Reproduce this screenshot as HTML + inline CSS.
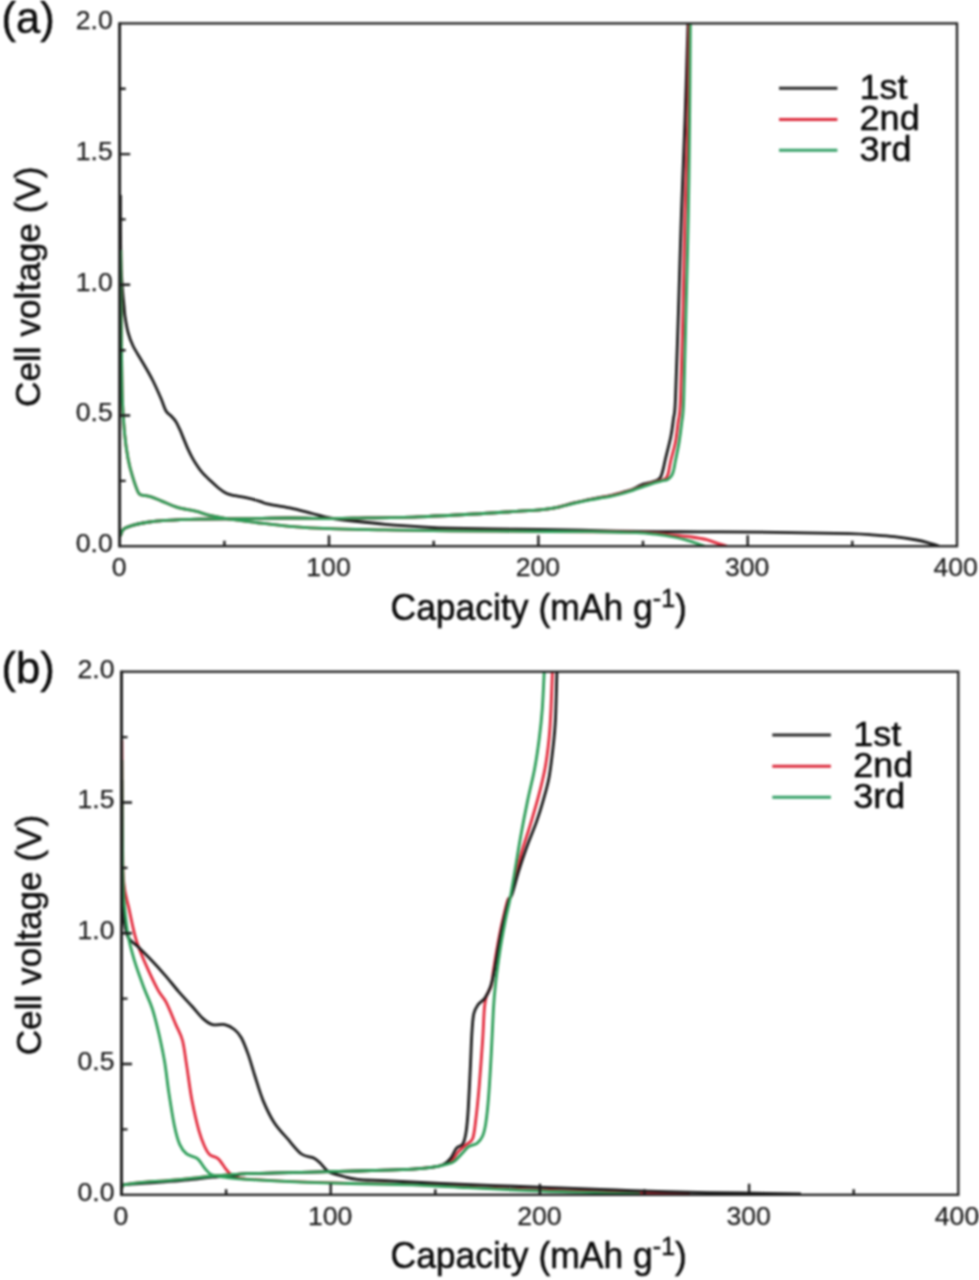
<!DOCTYPE html>
<html lang="en">
<head>
<meta charset="utf-8">
<title>Charge-discharge curves</title>
<style>
html,body{margin:0;padding:0;background:#fff;}
body{width:979px;height:1280px;overflow:hidden;}
svg{display:block;font-family:"Liberation Sans",Arial,Helvetica,sans-serif;filter:blur(0.8px);}
</style>
</head>
<body>
<svg width="979" height="1280" viewBox="0 0 979 1280">
<rect width="979" height="1280" fill="#ffffff"/>
<g>
<clipPath id="clipa"><rect x="118.2" y="22.4" width="840.3" height="525.0"/></clipPath>
<g clip-path="url(#clipa)">
<path d="M120.5,195.0C120.5,205.4 120.5,242.1 120.8,257.2C121.1,272.3 121.7,277.5 122.2,285.6C122.7,293.7 123.5,300.9 124.0,306.0C124.5,311.1 124.3,311.9 125.0,316.4C125.7,320.9 126.8,327.9 128.2,332.8C129.5,337.7 131.0,341.7 133.1,346.0C135.2,350.3 138.6,355.5 140.5,358.8C142.4,362.1 142.5,362.1 144.6,365.7C146.7,369.3 150.1,375.0 152.8,380.5C155.5,386.0 158.8,393.4 161.0,398.5C163.2,403.6 164.3,408.1 166.0,411.0C167.7,413.9 169.3,414.1 170.9,415.8C172.5,417.6 174.3,419.2 175.8,421.5C177.3,423.8 178.5,426.7 179.9,429.7C181.3,432.7 182.6,436.3 184.0,439.6C185.4,442.9 186.7,446.4 188.1,449.4C189.5,452.4 190.7,454.9 192.2,457.6C193.7,460.3 195.5,463.3 197.2,465.8C198.8,468.3 199.9,469.9 202.1,472.4C204.3,474.9 207.6,478.0 210.3,480.6C213.0,483.2 215.8,485.8 218.5,488.0C221.2,490.2 224.0,492.3 226.7,493.6C229.4,494.9 231.9,495.1 234.9,495.7C237.9,496.3 240.6,496.5 244.8,497.4C249.0,498.3 256.2,500.2 260.0,501.3C263.8,502.4 262.3,502.7 267.3,503.8C272.3,504.9 282.3,506.3 289.8,507.9C297.3,509.5 305.5,511.8 312.2,513.5C318.9,515.2 323.2,516.8 330.0,518.0C336.8,519.2 343.5,520.0 352.7,521.0C361.9,522.0 374.5,523.4 385.4,524.3C396.3,525.2 407.1,526.0 418.0,526.6C428.9,527.2 434.4,527.8 450.7,528.2C467.0,528.6 494.2,528.9 516.0,529.2C537.8,529.5 560.7,529.8 581.4,530.2C602.1,530.6 620.2,531.2 640.0,531.5C659.8,531.8 680.0,531.7 700.0,531.8C720.0,531.9 742.5,531.9 760.0,532.1C777.5,532.3 789.8,532.5 804.7,532.8C819.6,533.1 838.3,533.4 849.5,533.7C860.7,534.0 864.4,534.3 871.9,534.8C879.4,535.3 886.8,535.7 894.2,536.6C901.7,537.5 910.6,538.9 916.6,540.0C922.6,541.1 926.3,542.3 930.0,543.3C933.7,544.3 937.5,545.5 939.0,546.0" fill="none" stroke="#181818" stroke-width="2.8" stroke-linejoin="round" stroke-linecap="butt"/>
<path d="M120.4,536.0C120.9,534.9 121.5,531.0 123.5,529.2C125.5,527.4 128.8,526.5 132.5,525.4C136.2,524.3 140.4,523.3 146.0,522.5C151.6,521.7 157.2,521.0 166.2,520.4C175.2,519.8 186.8,519.4 199.9,519.1C213.0,518.8 229.8,518.9 244.8,518.7C259.8,518.5 275.6,518.0 289.8,518.0C304.0,518.0 319.5,518.6 330.0,518.6C340.5,518.6 338.0,518.5 352.7,518.2C367.4,517.9 396.2,517.6 418.0,516.8C439.8,516.0 467.0,514.4 483.4,513.5C499.8,512.6 506.7,512.0 516.1,511.4C525.5,510.8 533.3,510.4 540.0,509.8C546.7,509.2 550.8,508.7 556.3,507.6C561.8,506.5 567.1,504.6 572.7,503.2C578.3,501.8 585.4,500.4 590.0,499.4C594.6,498.4 596.8,498.0 600.2,497.4C603.6,496.8 607.4,496.2 610.4,495.6C613.4,495.0 615.6,494.3 618.0,493.6C620.4,492.9 622.4,492.3 624.7,491.6C627.0,490.9 629.8,490.4 632.0,489.6C634.2,488.8 636.1,487.5 638.0,486.6C639.9,485.7 641.1,484.7 643.1,484.0C645.1,483.3 647.6,483.3 650.0,482.6C652.4,481.9 655.8,481.0 657.6,480.0C659.4,479.0 659.9,478.6 660.9,476.6C661.9,474.6 662.7,471.0 663.4,468.2C664.1,465.4 664.0,465.2 665.2,460.0C666.4,454.8 669.4,443.7 670.8,436.8C672.2,429.9 672.7,424.5 673.5,418.4C674.3,412.3 674.6,418.1 675.4,400.0C676.2,381.9 677.5,340.8 678.5,310.0C679.5,279.2 680.3,246.7 681.4,215.0C682.5,183.3 683.9,151.9 685.0,120.0C686.1,88.1 687.5,39.5 688.0,23.4" fill="none" stroke="#181818" stroke-width="2.8" stroke-linejoin="round" stroke-linecap="butt"/>
<path d="M120.8,250.0C120.9,265.0 121.1,315.0 121.4,340.0C121.7,365.0 121.9,384.4 122.4,400.0C122.9,415.6 123.7,424.0 124.6,433.7C125.5,443.4 126.7,451.3 128.0,458.4C129.3,465.5 130.8,470.8 132.5,476.4C134.2,482.0 136.6,489.0 138.1,492.1C139.6,495.2 139.4,494.2 141.5,495.0C143.6,495.8 147.0,495.6 150.4,496.6C153.8,497.6 157.2,499.3 161.7,501.1C166.2,502.9 171.8,505.7 177.4,507.4C183.0,509.1 189.8,509.8 195.4,511.2C201.0,512.6 205.5,514.4 211.1,515.7C216.7,517.0 221.6,518.0 229.1,519.1C236.6,520.2 245.9,521.3 256.0,522.5C266.1,523.7 277.5,525.3 289.8,526.3C302.1,527.3 314.1,528.1 330.0,528.7C345.9,529.3 365.3,529.5 385.4,529.9C405.5,530.2 423.5,530.5 450.7,530.8C477.9,531.1 523.9,531.3 548.8,531.5C573.7,531.7 584.8,531.7 600.0,531.8C615.2,531.9 627.8,531.8 640.0,532.3C652.2,532.8 664.9,534.3 673.5,535.1C682.1,535.9 686.4,536.2 691.9,537.0C697.4,537.8 702.3,538.6 706.6,539.7C710.9,540.8 714.3,542.3 717.7,543.4C721.1,544.5 725.4,545.7 726.9,546.2" fill="none" stroke="#e2283a" stroke-width="2.8" stroke-linejoin="round" stroke-linecap="butt"/>
<path d="M120.4,536.0C120.9,534.9 121.5,531.0 123.5,529.2C125.5,527.4 128.8,526.5 132.5,525.4C136.2,524.3 140.4,523.3 146.0,522.5C151.6,521.7 157.2,521.0 166.2,520.4C175.2,519.8 186.8,519.4 199.9,519.1C213.0,518.8 229.8,518.9 244.8,518.7C259.8,518.5 275.6,518.0 289.8,518.0C304.0,518.0 319.5,518.6 330.0,518.6C340.5,518.6 338.0,518.5 352.7,518.2C367.4,517.9 396.2,517.6 418.0,516.8C439.8,516.0 467.0,514.4 483.4,513.5C499.8,512.6 506.7,512.0 516.1,511.4C525.5,510.8 533.3,510.4 540.0,509.8C546.7,509.2 550.8,508.7 556.3,507.6C561.8,506.5 567.1,504.7 572.7,503.3C578.3,501.9 585.4,500.4 590.0,499.5C594.6,498.6 596.8,498.2 600.2,497.6C603.6,497.0 607.0,496.6 610.4,495.9C613.8,495.2 617.2,494.3 620.6,493.4C624.0,492.5 627.5,491.4 630.9,490.3C634.3,489.2 637.7,488.0 641.1,486.8C644.5,485.6 648.1,484.2 651.3,483.2C654.4,482.2 657.6,481.4 660.0,480.6C662.4,479.8 664.4,479.7 665.8,478.4C667.2,477.1 667.4,476.1 668.3,473.0C669.1,469.9 669.7,465.1 670.9,460.0C672.1,454.9 674.2,448.6 675.4,442.3C676.6,436.0 677.2,429.2 678.1,422.1C679.0,415.1 679.7,418.7 680.5,400.0C681.3,381.3 682.2,340.8 683.0,310.0C683.8,279.2 684.2,246.7 685.0,215.0C685.8,183.3 687.1,151.9 687.8,120.0C688.5,88.1 689.0,39.5 689.2,23.4" fill="none" stroke="#e2283a" stroke-width="2.8" stroke-linejoin="round" stroke-linecap="butt"/>
<path d="M120.8,250.0C120.9,265.0 121.1,315.0 121.4,340.0C121.7,365.0 121.9,384.4 122.4,400.0C122.9,415.6 123.7,424.0 124.6,433.7C125.5,443.4 126.7,451.3 128.0,458.4C129.3,465.5 130.8,470.8 132.5,476.4C134.2,482.0 136.6,489.0 138.1,492.1C139.6,495.2 139.4,494.2 141.5,495.0C143.6,495.8 147.0,495.6 150.4,496.6C153.8,497.6 157.2,499.3 161.7,501.1C166.2,502.9 171.8,505.7 177.4,507.4C183.0,509.1 189.8,509.8 195.4,511.2C201.0,512.6 205.5,514.4 211.1,515.7C216.7,517.0 221.6,518.0 229.1,519.1C236.6,520.2 245.9,521.3 256.0,522.5C266.1,523.7 277.5,525.3 289.8,526.3C302.1,527.3 314.1,528.1 330.0,528.7C345.9,529.3 365.3,529.5 385.4,529.9C405.5,530.2 423.5,530.5 450.7,530.8C477.9,531.1 523.9,531.3 548.8,531.5C573.7,531.7 585.3,531.6 600.0,531.8C614.7,532.0 627.6,532.3 636.8,532.7C646.0,533.1 649.1,533.5 655.2,534.2C661.3,534.9 668.0,535.9 673.5,537.0C679.0,538.1 683.9,539.5 688.2,540.7C692.5,541.9 696.5,543.4 699.3,544.3C702.1,545.2 703.9,545.9 704.8,546.2" fill="none" stroke="#2a9c56" stroke-width="2.8" stroke-linejoin="round" stroke-linecap="butt"/>
<path d="M120.4,536.0C120.9,534.9 121.5,531.0 123.5,529.2C125.5,527.4 128.8,526.5 132.5,525.4C136.2,524.3 140.4,523.3 146.0,522.5C151.6,521.7 157.2,521.0 166.2,520.4C175.2,519.8 186.8,519.4 199.9,519.1C213.0,518.8 229.8,518.9 244.8,518.7C259.8,518.5 275.6,518.0 289.8,518.0C304.0,518.0 319.5,518.6 330.0,518.6C340.5,518.6 338.0,518.5 352.7,518.2C367.4,517.9 396.2,517.6 418.0,516.8C439.8,516.0 467.0,514.4 483.4,513.5C499.8,512.6 506.7,512.0 516.1,511.4C525.5,510.8 533.3,510.4 540.0,509.8C546.7,509.2 550.8,508.6 556.3,507.6C561.8,506.6 567.1,504.9 572.7,503.6C578.3,502.3 585.4,500.8 590.0,499.9C594.6,499.0 596.8,498.6 600.2,498.0C603.6,497.4 607.0,497.1 610.4,496.4C613.8,495.7 617.2,494.9 620.6,494.0C624.0,493.1 627.5,492.0 630.9,490.9C634.3,489.8 637.7,488.6 641.1,487.4C644.5,486.2 647.9,484.9 651.3,483.8C654.7,482.7 658.8,481.7 661.5,481.0C664.2,480.3 665.9,480.3 667.6,479.4C669.3,478.5 670.7,477.2 671.7,475.6C672.7,474.0 673.1,472.1 673.8,469.5C674.4,466.9 674.7,464.5 675.6,460.0C676.5,455.5 678.1,448.6 679.1,442.3C680.1,436.0 681.0,429.2 681.8,422.1C682.6,415.1 683.0,418.7 683.7,400.0C684.4,381.3 685.2,340.8 686.0,310.0C686.8,279.2 687.7,246.7 688.3,215.0C688.9,183.3 689.3,151.9 689.6,120.0C689.9,88.1 690.2,39.5 690.3,23.4" fill="none" stroke="#2a9c56" stroke-width="2.8" stroke-linejoin="round" stroke-linecap="butt"/>
</g>
<rect x="119.7" y="23.4" width="837.3" height="522.8" fill="none" stroke="#1e1e1e" stroke-width="2.3"/>
<path d="M119.7,22.4V547.2" fill="none" stroke="#1a1a1a" stroke-width="2.7"/>
<path d="M224.4,546.2v-5.5M329.0,546.2v-11.0M433.7,546.2v-5.5M538.4,546.2v-11.0M643.0,546.2v-5.5M747.7,546.2v-11.0M852.3,546.2v-5.5M119.7,480.9h6.0M119.7,415.5h10.5M119.7,350.2h6.0M119.7,284.8h10.5M119.7,219.4h6.0M119.7,154.1h10.5M119.7,88.8h6.0" stroke="#1a1a1a" stroke-width="2.4" fill="none"/>
<g font-size="26.6" fill="#1c1c1c" stroke="#1c1c1c" stroke-width="0.25">
<text x="112.7" y="552.0" text-anchor="end">0.0</text>
<text x="112.7" y="421.3" text-anchor="end">0.5</text>
<text x="112.7" y="290.6" text-anchor="end">1.0</text>
<text x="112.7" y="159.9" text-anchor="end">1.5</text>
<text x="112.7" y="29.2" text-anchor="end">2.0</text>
<text x="119.2" y="575.9" text-anchor="middle">0</text>
<text x="328.5" y="575.9" text-anchor="middle">100</text>
<text x="537.9" y="575.9" text-anchor="middle">200</text>
<text x="747.2" y="575.9" text-anchor="middle">300</text>
<text x="955.7" y="575.9" text-anchor="middle">400</text>
</g>
<text transform="translate(390.5,619.9) scale(1,1.040)" font-size="35.5" fill="#0c0c0c" stroke="#0c0c0c" stroke-width="0.5">Capacity (mAh g<tspan font-size="25" dy="-12.2">-1</tspan><tspan dy="12.2">)</tspan></text>
<text transform="translate(39.9,286.7) rotate(-90) scale(1,1.020)" font-size="35.2" fill="#0c0c0c" stroke="#0c0c0c" stroke-width="0.5" text-anchor="middle">Cell voltage (V)</text>
<text transform="translate(1.6,32.6) scale(1,1.020)" font-size="43.5" fill="#0c0c0c" stroke="#0c0c0c" stroke-width="0.5">(a)</text>
<path d="M779.0,88.3H837.4" stroke="#2a2a2a" stroke-width="3.0"/>
<path d="M779.0,119.4H837.4" stroke="#dc2b3c" stroke-width="3.0"/>
<path d="M779.0,150.2H837.4" stroke="#36a068" stroke-width="3.0"/>
<text transform="translate(859.6,99.2) scale(1,0.970)" font-size="36" fill="#080808" stroke="#080808" stroke-width="0.5">1st</text>
<text transform="translate(859.6,129.9) scale(1,0.970)" font-size="36" fill="#080808" stroke="#080808" stroke-width="0.5">2nd</text>
<text transform="translate(859.6,160.5) scale(1,0.970)" font-size="36" fill="#080808" stroke="#080808" stroke-width="0.5">3rd</text>
</g>
<g>
<clipPath id="clipb"><rect x="120.0" y="670.7" width="839.8" height="525.3"/></clipPath>
<g clip-path="url(#clipb)">
<path d="M121.9,740.0C122.0,755.0 122.1,806.4 122.4,830.0C122.7,853.6 122.6,868.7 123.7,881.9C124.8,895.1 127.0,899.6 129.1,909.2C131.2,918.8 133.3,930.2 136.0,939.3C138.7,948.4 141.8,955.5 145.5,963.9C149.2,972.3 154.5,983.5 157.9,989.9C161.3,996.3 163.2,996.5 166.1,1002.2C169.0,1007.9 172.9,1017.7 175.6,1024.1C178.3,1030.5 180.7,1033.7 182.5,1040.5C184.3,1047.3 185.0,1055.1 186.6,1065.1C188.2,1075.1 189.9,1089.7 192.0,1100.6C194.1,1111.5 196.8,1123.2 198.9,1130.7C201.0,1138.2 202.5,1141.7 204.3,1145.7C206.1,1149.7 207.5,1152.7 209.8,1154.8C212.1,1156.9 215.5,1156.5 218.0,1158.6C220.5,1160.7 222.8,1165.0 224.8,1167.6C226.9,1170.1 228.1,1172.2 230.3,1173.9C232.5,1175.6 234.7,1176.7 238.0,1177.6C241.3,1178.5 239.4,1178.6 250.0,1179.3C260.6,1180.0 284.7,1181.2 301.4,1181.9C318.1,1182.6 331.4,1182.8 350.0,1183.3C368.6,1183.8 393.1,1184.0 412.7,1184.6C432.3,1185.2 449.5,1186.3 467.9,1187.1C486.3,1187.9 504.3,1188.9 523.0,1189.6C541.7,1190.3 560.5,1190.7 580.0,1191.2C599.5,1191.7 621.7,1192.1 640.0,1192.6C658.3,1193.1 681.7,1194.1 690.0,1194.4" fill="none" stroke="#e2283a" stroke-width="2.8" stroke-linejoin="round" stroke-linecap="butt"/>
<path d="M121.4,1189.5C121.6,1188.8 121.8,1186.4 122.6,1185.6C123.4,1184.8 123.6,1184.9 126.4,1184.4C129.2,1183.9 133.1,1183.2 139.5,1182.6C145.9,1182.0 156.5,1181.4 164.7,1180.8C172.9,1180.2 180.4,1179.5 188.5,1178.7C196.6,1177.9 205.2,1176.7 213.0,1176.0C220.8,1175.3 229.4,1174.7 235.0,1174.3C240.6,1173.9 235.6,1174.0 246.7,1173.7C257.8,1173.4 287.5,1172.7 301.4,1172.3C315.3,1171.9 320.6,1171.8 330.0,1171.6C339.4,1171.4 348.4,1171.2 357.6,1171.0C366.8,1170.8 376.0,1170.5 385.2,1170.2C394.4,1169.9 404.4,1169.6 412.7,1169.1C421.0,1168.5 429.4,1167.8 434.8,1166.9C440.2,1166.1 442.1,1165.1 445.0,1164.0C447.9,1162.9 449.7,1162.4 451.9,1160.3C454.1,1158.2 456.0,1154.2 458.4,1151.6C460.8,1149.0 463.7,1146.8 466.1,1144.6C468.5,1142.4 471.1,1142.8 472.7,1138.5C474.3,1134.2 474.8,1127.5 475.9,1118.8C477.0,1110.0 478.1,1098.8 479.2,1086.0C480.3,1073.2 481.6,1055.0 482.5,1042.2C483.4,1029.4 483.7,1017.0 484.3,1009.4C484.9,1001.8 485.2,1000.3 486.4,996.3C487.6,992.3 490.1,989.7 491.3,985.3C492.5,980.9 492.4,976.9 493.5,970.0C494.6,963.1 496.4,951.8 497.9,943.8C499.4,935.8 500.6,929.2 502.3,921.9C504.0,914.6 506.2,904.6 507.8,900.0C509.4,895.4 509.4,901.9 511.6,894.4C513.8,886.9 517.6,867.0 520.8,855.3C523.9,843.6 527.6,833.9 530.5,824.1C533.4,814.3 535.9,806.2 538.4,796.7C540.9,787.2 543.4,777.2 545.2,767.4C547.0,757.6 548.1,747.9 549.1,738.1C550.1,728.3 550.5,719.9 551.0,708.8C551.5,697.7 552.2,677.9 552.4,671.7" fill="none" stroke="#e2283a" stroke-width="2.8" stroke-linejoin="round" stroke-linecap="butt"/>
<path d="M121.8,780.0C121.9,793.3 122.0,837.5 122.3,860.0C122.6,882.5 122.8,901.9 123.7,914.7C124.6,927.5 125.5,931.4 127.8,936.6C130.1,941.8 133.4,942.2 137.3,946.1C141.2,950.0 146.4,955.0 151.0,959.8C155.6,964.6 160.1,969.5 164.7,974.8C169.3,980.0 173.8,986.0 178.4,991.3C183.0,996.5 187.9,1001.8 192.0,1006.3C196.1,1010.8 199.6,1015.6 203.0,1018.6C206.4,1021.6 208.9,1023.6 212.5,1024.6C216.1,1025.6 221.2,1023.8 224.8,1024.6C228.5,1025.4 231.7,1027.3 234.4,1029.5C237.2,1031.7 239.0,1033.6 241.3,1037.7C243.6,1041.8 245.8,1047.7 248.1,1054.1C250.4,1060.5 252.4,1068.2 254.9,1076.0C257.4,1083.8 259.9,1092.8 263.1,1100.6C266.3,1108.3 270.0,1116.1 274.1,1122.5C278.2,1128.9 283.1,1133.7 287.7,1138.9C292.2,1144.2 297.1,1150.8 301.4,1154.0C305.7,1157.2 310.5,1156.4 313.7,1158.0C316.9,1159.6 318.1,1161.2 320.6,1163.5C323.1,1165.8 324.9,1169.5 328.8,1171.7C332.7,1173.9 339.0,1175.2 343.8,1176.5C348.6,1177.8 350.7,1178.6 357.6,1179.3C364.5,1180.0 371.4,1180.0 385.2,1180.7C399.0,1181.4 421.9,1182.6 440.3,1183.4C458.7,1184.2 477.1,1184.9 495.5,1185.6C513.9,1186.3 533.2,1187.0 550.6,1187.6C568.0,1188.2 586.4,1188.8 600.0,1189.3C613.6,1189.8 617.5,1190.1 632.0,1190.6C646.5,1191.1 669.0,1191.8 687.0,1192.2C705.0,1192.6 721.0,1192.7 740.0,1193.0C759.0,1193.3 790.8,1193.7 801.0,1193.8" fill="none" stroke="#181818" stroke-width="2.8" stroke-linejoin="round" stroke-linecap="butt"/>
<path d="M121.4,1189.5C121.6,1188.8 121.8,1186.4 122.6,1185.6C123.4,1184.8 123.6,1184.7 126.4,1184.4C129.2,1184.1 133.1,1184.1 139.5,1183.7C145.9,1183.3 156.5,1182.5 164.7,1181.9C172.9,1181.2 180.4,1180.6 188.5,1179.8C196.6,1179.0 205.2,1177.8 213.0,1177.1C220.8,1176.4 229.4,1176.0 235.0,1175.4C240.6,1174.8 235.6,1174.2 246.7,1173.7C257.8,1173.2 287.5,1172.7 301.4,1172.3C315.3,1171.9 320.6,1171.8 330.0,1171.6C339.4,1171.4 348.4,1171.2 357.6,1171.0C366.8,1170.8 376.0,1170.5 385.2,1170.2C394.4,1169.9 405.2,1169.5 412.7,1169.1C420.2,1168.7 424.9,1168.3 430.0,1167.6C435.1,1166.9 439.6,1166.3 443.1,1164.7C446.6,1163.1 448.6,1160.8 450.8,1158.1C453.0,1155.4 454.3,1150.7 456.3,1148.3C458.3,1145.9 461.2,1146.6 462.8,1143.9C464.4,1141.2 465.2,1137.9 466.1,1131.9C467.0,1125.9 467.6,1119.1 468.3,1107.8C469.0,1096.5 469.9,1076.8 470.5,1064.1C471.1,1051.3 471.4,1039.7 472.0,1031.3C472.6,1022.9 472.8,1018.2 473.8,1013.8C474.8,1009.3 476.3,1007.2 478.1,1004.6C479.9,1002.0 482.7,1001.2 484.7,998.4C486.7,995.5 488.6,992.2 490.2,987.5C491.8,982.8 493.1,977.3 494.5,970.0C495.9,962.7 497.4,951.8 498.9,943.8C500.4,935.8 501.6,929.2 503.3,921.9C505.0,914.6 507.4,904.6 508.8,900.0C510.2,895.4 510.3,899.2 512.0,894.4C513.7,889.5 516.4,878.7 518.8,870.9C521.2,863.1 523.7,855.6 526.6,847.5C529.5,839.4 533.6,829.9 536.4,822.1C539.2,814.3 541.1,808.1 543.2,800.6C545.3,793.1 547.5,786.0 549.1,777.2C550.7,768.4 551.9,757.7 553.0,747.9C554.1,738.1 554.9,731.3 555.5,718.6C556.1,705.9 556.7,679.5 556.9,671.7" fill="none" stroke="#181818" stroke-width="2.8" stroke-linejoin="round" stroke-linecap="butt"/>
<path d="M121.9,760.0C122.0,775.0 122.1,827.4 122.4,850.0C122.7,872.6 122.8,881.5 123.7,895.5C124.6,909.5 126.0,922.8 127.8,933.8C129.6,944.8 131.9,952.1 134.6,961.2C137.3,970.3 141.2,980.5 144.2,988.5C147.2,996.5 149.9,1001.2 152.4,1009.0C154.9,1016.8 157.1,1026.1 159.2,1035.0C161.2,1043.9 163.1,1052.7 164.7,1062.3C166.3,1071.9 167.2,1081.9 168.8,1092.4C170.4,1102.9 172.5,1116.5 174.3,1125.2C176.1,1133.9 177.6,1139.6 179.7,1144.4C181.8,1149.2 183.6,1151.5 186.6,1153.9C189.6,1156.3 194.6,1156.3 197.5,1158.6C200.4,1160.9 202.0,1164.9 204.3,1167.6C206.6,1170.2 207.8,1172.9 211.2,1174.5C214.6,1176.1 218.9,1176.4 224.8,1177.2C230.7,1178.0 233.9,1178.6 246.7,1179.4C259.5,1180.2 284.2,1181.4 301.4,1182.1C318.6,1182.8 331.4,1183.0 350.0,1183.5C368.6,1184.0 393.1,1184.1 412.7,1184.8C432.3,1185.5 449.5,1186.7 467.9,1187.6C486.3,1188.5 504.3,1189.6 523.0,1190.4C541.7,1191.2 560.5,1191.6 580.0,1192.2C599.5,1192.8 630.0,1193.7 640.0,1194.0" fill="none" stroke="#2a9c56" stroke-width="2.8" stroke-linejoin="round" stroke-linecap="butt"/>
<path d="M121.4,1189.5C121.6,1188.8 121.8,1186.4 122.6,1185.6C123.4,1184.8 123.6,1184.9 126.4,1184.4C129.2,1183.9 133.1,1183.2 139.5,1182.6C145.9,1182.0 156.5,1181.4 164.7,1180.8C172.9,1180.2 180.4,1179.5 188.5,1178.7C196.6,1177.9 205.2,1176.7 213.0,1176.0C220.8,1175.3 229.4,1174.7 235.0,1174.3C240.6,1173.9 235.6,1174.0 246.7,1173.7C257.8,1173.4 287.5,1172.7 301.4,1172.3C315.3,1171.9 320.6,1171.8 330.0,1171.6C339.4,1171.4 348.4,1171.2 357.6,1171.0C366.8,1170.8 376.0,1170.5 385.2,1170.2C394.4,1169.9 404.4,1169.6 412.7,1169.1C421.0,1168.5 428.8,1167.8 434.8,1166.9C440.8,1166.0 445.4,1164.5 448.6,1163.6C451.8,1162.7 451.7,1163.2 454.1,1161.4C456.5,1159.6 460.4,1155.1 462.8,1152.7C465.2,1150.3 465.9,1148.4 468.3,1146.8C470.7,1145.2 474.6,1145.0 477.0,1143.3C479.4,1141.5 481.0,1139.7 482.5,1136.3C484.0,1132.9 484.8,1129.7 485.8,1123.1C486.8,1116.5 487.7,1108.6 488.6,1096.9C489.5,1085.2 490.5,1067.7 491.3,1053.1C492.1,1038.5 492.7,1021.1 493.4,1009.4C494.1,997.7 494.5,993.0 495.6,983.1C496.7,973.2 498.4,960.9 500.0,950.3C501.6,939.7 503.9,928.1 505.5,919.7C507.1,911.3 508.2,908.1 509.8,900.0C511.4,891.9 513.1,881.6 514.9,870.9C516.7,860.2 518.7,847.5 520.8,835.8C522.9,824.1 525.3,811.7 527.6,800.6C529.9,789.5 532.5,779.8 534.5,769.4C536.5,759.0 538.0,748.2 539.3,738.1C540.6,728.0 541.5,719.9 542.3,708.8C543.1,697.7 543.9,677.9 544.2,671.7" fill="none" stroke="#2a9c56" stroke-width="2.8" stroke-linejoin="round" stroke-linecap="butt"/>
</g>
<rect x="121.5" y="671.7" width="836.8" height="523.1" fill="none" stroke="#1e1e1e" stroke-width="2.3"/>
<path d="M121.5,670.7V1195.8" fill="none" stroke="#1a1a1a" stroke-width="2.7"/>
<path d="M226.1,1194.8v-5.5M330.7,1194.8v-11.0M435.3,1194.8v-5.5M539.9,1194.8v-11.0M644.5,1194.8v-5.5M749.1,1194.8v-11.0M853.7,1194.8v-5.5M121.5,1129.4h6.0M121.5,1064.0h10.5M121.5,998.6h6.0M121.5,933.2h10.5M121.5,867.9h6.0M121.5,802.5h10.5M121.5,737.1h6.0" stroke="#1a1a1a" stroke-width="2.4" fill="none"/>
<g font-size="26.6" fill="#1c1c1c" stroke="#1c1c1c" stroke-width="0.25">
<text x="114.5" y="1200.6" text-anchor="end">0.0</text>
<text x="114.5" y="1069.8" text-anchor="end">0.5</text>
<text x="114.5" y="939.0" text-anchor="end">1.0</text>
<text x="114.5" y="808.3" text-anchor="end">1.5</text>
<text x="114.5" y="677.5" text-anchor="end">2.0</text>
<text x="121.0" y="1224.5" text-anchor="middle">0</text>
<text x="330.2" y="1224.5" text-anchor="middle">100</text>
<text x="539.4" y="1224.5" text-anchor="middle">200</text>
<text x="748.6" y="1224.5" text-anchor="middle">300</text>
<text x="957.0" y="1224.5" text-anchor="middle">400</text>
</g>
<text transform="translate(390.5,1268.0) scale(1,1.040)" font-size="35.5" fill="#0c0c0c" stroke="#0c0c0c" stroke-width="0.5">Capacity (mAh g<tspan font-size="25" dy="-12.2">-1</tspan><tspan dy="12.2">)</tspan></text>
<text transform="translate(40.8,935.0) rotate(-90) scale(1,1.020)" font-size="35.2" fill="#0c0c0c" stroke="#0c0c0c" stroke-width="0.5" text-anchor="middle">Cell voltage (V)</text>
<text transform="translate(1.6,682.7) scale(1,1.020)" font-size="43.5" fill="#0c0c0c" stroke="#0c0c0c" stroke-width="0.5">(b)</text>
<path d="M772.3,735.1H830.9" stroke="#2a2a2a" stroke-width="3.0"/>
<path d="M772.3,766.3H830.9" stroke="#dc2b3c" stroke-width="3.0"/>
<path d="M772.3,797.3H830.9" stroke="#36a068" stroke-width="3.0"/>
<text transform="translate(853.2,746.2) scale(1,0.970)" font-size="36" fill="#080808" stroke="#080808" stroke-width="0.5">1st</text>
<text transform="translate(853.2,776.9) scale(1,0.970)" font-size="36" fill="#080808" stroke="#080808" stroke-width="0.5">2nd</text>
<text transform="translate(853.2,807.5) scale(1,0.970)" font-size="36" fill="#080808" stroke="#080808" stroke-width="0.5">3rd</text>
</g>
</svg>
</body>
</html>
